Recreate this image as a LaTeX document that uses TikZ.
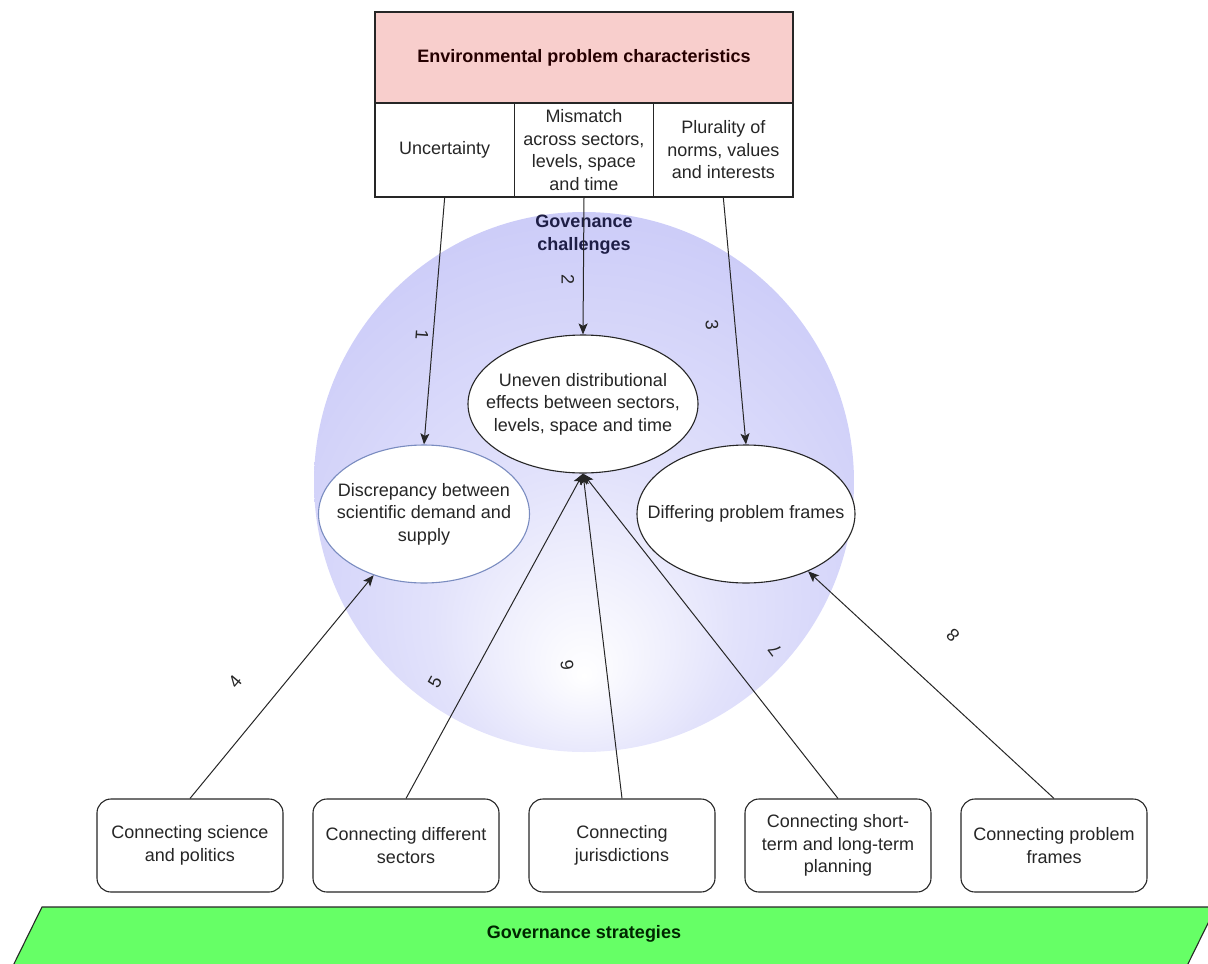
\documentclass[tikz,border=0pt]{standalone}
\usepackage{fontspec}
\setmainfont{Liberation Sans}
\usetikzlibrary{shapes.geometric,arrows.meta}

\definecolor{pinkfill}{HTML}{F8CECC}
\definecolor{lavender}{HTML}{C2C2F7}
\definecolor{midlav}{HTML}{E2E2FB}
\definecolor{greenfill}{HTML}{66FF66}
\definecolor{ink}{HTML}{262626}
\definecolor{navyink}{HTML}{1E1E46}
\definecolor{blueline}{HTML}{7A8CC0}

% soft glow behind the challenges, lightest below the centre
\pgfdeclareradialshading{challengeglow}{\pgfpoint{0bp}{-18bp}}{%
  color(0bp)=(white); color(14bp)=(midlav); color(40bp)=(lavender); color(50bp)=(lavender)}

\tikzset{
  txt/.style={font=\fontsize{18}{22.5}\selectfont, text=ink, align=center},
  cell/.style={txt, draw=ink, line width=1.1pt, fill=white, inner sep=0pt,
    minimum width=139.33pt, minimum height=94pt},
  chal/.style={ellipse, draw=ink, line width=1.1pt, fill=white, inner sep=0pt},
  strat/.style={txt, draw=ink, line width=1.1pt, fill=white, rounded corners=14pt,
    minimum width=186pt, minimum height=93pt, inner sep=0pt},
  arr/.style={draw=ink, line width=1pt, -{Stealth[length=11pt,width=9pt,inset=2.5pt]}},
  num/.style={font=\fontsize{18}{20}\selectfont, text=ink, inner sep=0pt},
}

\begin{document}
\begin{tikzpicture}[x=1pt, y=-1pt]
\useasboundingbox (0,0) rectangle (1208,964);

% governance challenges backdrop
\path[shading=challengeglow] (584,482) circle[radius=270pt];
\node[txt, text=navyink, font=\fontsize{18}{23}\selectfont\bfseries] (gclab) at (584,235)
  {Govenance\\challenges};

% environmental problem characteristics
\node[txt, draw=ink, line width=1.1pt, fill=pinkfill, minimum width=418pt, minimum height=91pt,
  inner sep=0pt, font=\fontsize{18}{23}\selectfont\bfseries, text=black!85!red] (env) at (584,57.5)
  {Environmental problem characteristics};
\node[cell] (u1) at (444.67,150) {Uncertainty};
\node[cell] (u2) at (584,150) {Mismatch\\across sectors,\\levels, space\\and time};
\node[cell] (u3) at (723.33,150) {Plurality of\\norms, values\\and interests};

% challenges
\node[chal, draw=blueline, minimum width=211pt, minimum height=138pt,
  label={[txt]center:Discrepancy between\\scientific demand and\\supply}] (c1) at (424,514) {};
\node[chal, minimum width=230pt, minimum height=138pt,
  label={[txt]center:Uneven distributional\\effects between sectors,\\levels, space and time}] (c2) at (583,404) {};
\node[chal, minimum width=218pt, minimum height=138pt,
  label={[txt]center:Differing problem frames}] (c3) at (746,514) {};

% strategies
\node[strat] (s1) at (190,845.5) {Connecting science\\and politics};
\node[strat] (s2) at (406,845.5) {Connecting different\\sectors};
\node[strat] (s3) at (622,845.5) {Connecting\\jurisdictions};
\node[strat] (s4) at (838,845.5) {Connecting short-\\term and long-term\\planning};
\node[strat] (s5) at (1054,845.5) {Connecting problem\\frames};

% governance strategies band
\fill[greenfill, draw=ink, line width=1.1pt] (42,907) -- (1216,907) -- (1180,980) -- (6,980) -- cycle;
\node[txt, font=\fontsize{18}{23}\selectfont\bfseries, text=black!85!green] (gslab) at (584,934)
  {Governance strategies};

% characteristics to challenges
\draw[arr] (u1.south) -- (c1.north);
\draw[arr] (u2.south) -- (c2.north);
\draw[arr] (u3.south) -- (c3.north);

% strategies to challenges
\draw[arr] (s1.north) -- (c1);
\draw[arr] (s2.north) -- (c2.south);
\draw[arr] (s3.north) -- (c2.south);
\draw[arr] (s4.north) -- (c2.south);
\draw[arr] (s5.north) -- (c3);

% link numbers
\node[num, rotate=-94] (n1) at (422,335) {1};
\node[num, rotate=-90] (n2) at (568,280) {2};
\node[num, rotate=-85] (n3) at (712,325) {3};
\node[num, rotate=50]  (n4) at (235,682) {4};
\node[num, rotate=61]  (n5) at (435,682) {5};
\node[num, rotate=97]  (n6) at (567,665) {6};
\node[num, rotate=127] (n7) at (775,650) {7};
\node[num, rotate=135] (n8) at (953,635) {8};
\end{tikzpicture}
\end{document}
